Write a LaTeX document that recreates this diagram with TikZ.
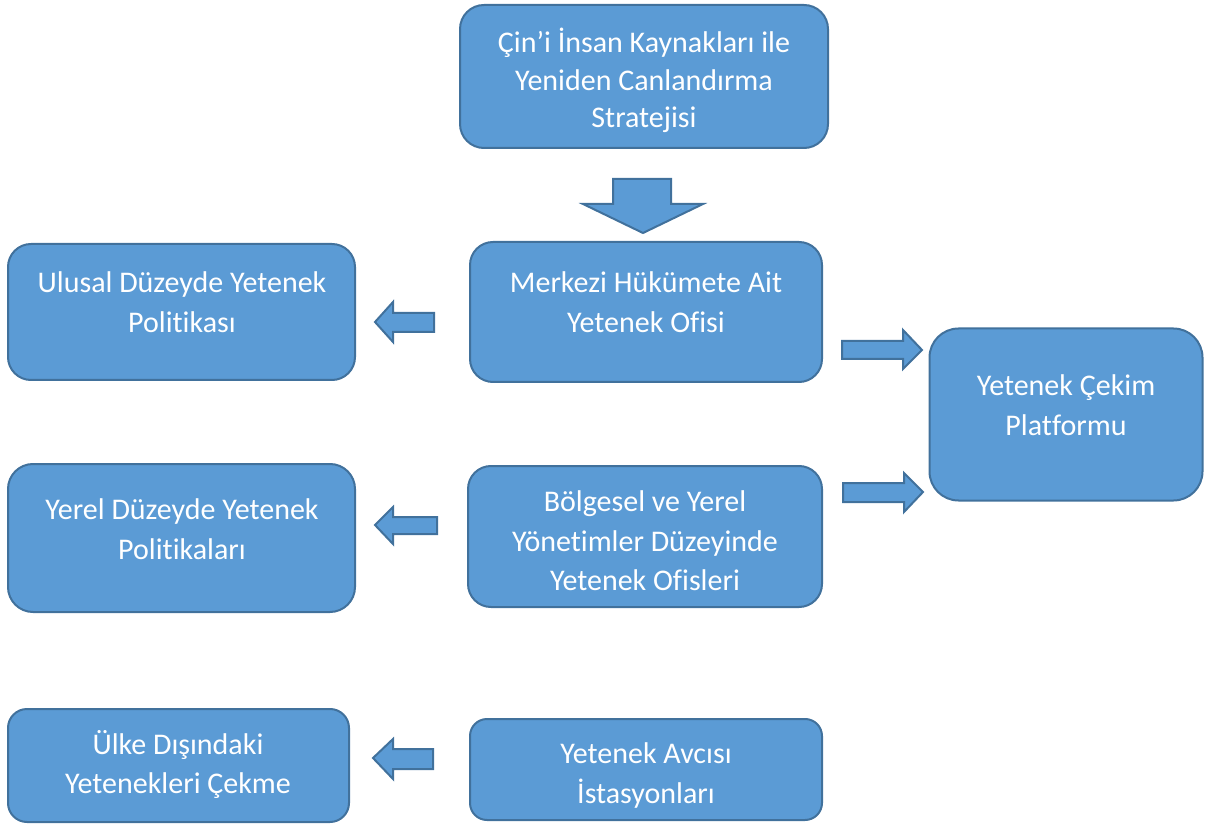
\documentclass[tikz,border=0pt]{standalone}
\usepackage{fontspec}
\setmainfont{Carlito}[Ligatures={NoCommon}]
\newcommand\tisplit{t\kern0pt i}
\definecolor{boxfill}{HTML}{5B9BD5}
\definecolor{boxline}{HTML}{41719C}
\tikzset{
  box/.style={draw=boxline, fill=boxfill, line width=2pt, inner sep=0pt},
  txt/.style={text=white, align=center, inner sep=0pt, font=\fontsize{30}{39.5}\selectfont},
  blockarrow/.style={draw=boxline, fill=boxfill, line width=2pt, line join=miter}
}
\begin{document}
\begin{tikzpicture}[x=1pt,y=-1pt]
\useasboundingbox (0,0) rectangle (1208,826);
% boxes
\node[box, minimum width=368pt, minimum height=143pt, rounded corners=24pt] (top) at (644,76.5) {};
\node[box, minimum width=352pt, minimum height=140pt, rounded corners=23pt] (merkez) at (646,312) {};
\node[box, minimum width=347pt, minimum height=136pt, rounded corners=23pt] (ulusal) at (181.5,312) {};
\node[box, minimum width=273pt, minimum height=172pt, rounded corners=29pt] (cekim) at (1066,414.5) {};
\node[box, minimum width=347pt, minimum height=148pt, rounded corners=25pt] (yerel) at (181.5,538) {};
\node[box, minimum width=354pt, minimum height=141pt, rounded corners=23pt] (bolge) at (645,536.5) {};
\node[box, minimum width=341pt, minimum height=113pt, rounded corners=19pt] (ulke) at (178.5,765.5) {};
\node[box, minimum width=352pt, minimum height=101pt, rounded corners=17pt] (avci) at (646,769.5) {};
% texts
\node[txt, font=\fontsize{30}{37.5}\selectfont] (toptxt) at (644,80.5) {Çin’i İnsan Kaynakları ile\\Yeniden Canlandırma\\Stratejisi};
\node[txt] (merkeztxt) at (646,302) {Merkezi Hükümete Ait\\Yetenek Ofisi};
\node[txt] (ulusaltxt) at (182,302) {Ulusal Düzeyde Yetenek\\Poli\tisplit kası};
\node[txt] (cekimtxt) at (1066,405) {Yetenek Çekim\\Platformu};
\node[txt] (yereltxt) at (182,529) {Yerel Düzeyde Yetenek\\Poli\tisplit kaları};
\node[txt] (bolgetxt) at (645,541) {Bölgesel ve Yerel\\Yöne\tisplit mler Düzeyinde\\Yetenek Ofisleri};
\node[txt] (ulketxt) at (178,764.5) {Ülke Dışındaki\\Yetenekleri Çekme};
\node[txt] (avcitxt) at (646,775.5) {Yetenek Avcısı\\İstasyonları};
% block arrows
\draw[blockarrow] (613,179) -- (671,179) -- (671,204) -- (703,204) -- (643,233) -- (583,204) -- (613,204) -- cycle;
\draw[blockarrow] (375,322) -- (393,302) -- (393,313) -- (434,313) -- (434,332) -- (393,332) -- (393,342) -- cycle;
\draw[blockarrow] (375,525) -- (393,507) -- (393,517) -- (437,517) -- (437,534) -- (393,534) -- (393,544) -- cycle;
\draw[blockarrow] (373,758) -- (393,739) -- (393,749) -- (433,749) -- (433,769) -- (393,769) -- (393,779) -- cycle;
\draw[blockarrow] (842,341) -- (903,341) -- (903,330) -- (922,350) -- (903,369) -- (903,359) -- (842,359) -- cycle;
\draw[blockarrow] (843,483) -- (904,483) -- (904,473) -- (923,492) -- (904,512) -- (904,502) -- (843,502) -- cycle;
\end{tikzpicture}
\end{document}
